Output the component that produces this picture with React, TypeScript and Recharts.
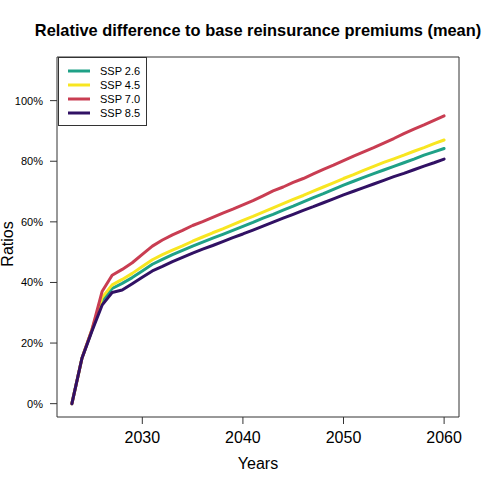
import { LineChart, Line, XAxis, YAxis, ReferenceArea } from 'recharts'

const years = [
    2023, 2024, 2025, 2026, 2027, 2028, 2029, 2030, 2031, 2032,
    2033, 2034, 2035, 2036, 2037, 2038, 2039, 2040, 2041, 2042,
    2043, 2044, 2045, 2046, 2047, 2048, 2049, 2050, 2051, 2052,
    2053, 2054, 2055, 2056, 2057, 2058, 2059, 2060,
]

// mean relative difference, in percent
const ssp26 = [
    0, 15, 24.3, 34, 38, 39.7, 41.6, 43.8, 46, 47.6,
    49.2, 50.6, 52, 53.3, 54.6, 55.9, 57.2, 58.5, 59.8, 61.2,
    62.5, 63.9, 65.2, 66.6, 68, 69.3, 70.7, 72.1, 73.4, 74.7,
    75.9, 77.1, 78.3, 79.5, 80.7, 82, 83.1, 84.2,
]
const ssp45 = [
    0, 15, 24.5, 35, 39.2, 41, 43, 45.3, 47.5, 49.2,
    50.7, 52.1, 53.6, 55, 56.4, 57.7, 59.1, 60.5, 61.8, 63.2,
    64.6, 66, 67.4, 68.7, 70.1, 71.5, 72.9, 74.3, 75.6, 77,
    78.3, 79.6, 80.8, 82, 83.3, 84.5, 85.8, 87,
]
const ssp70 = [
    0, 15, 24.5, 37, 42.4, 44.3, 46.5, 49.3, 52, 54,
    55.7, 57.2, 58.8, 60.1, 61.5, 62.9, 64.2, 65.6, 67, 68.6,
    70.2, 71.5, 73, 74.3, 75.8, 77.3, 78.7, 80.2, 81.7, 83.1,
    84.5, 86, 87.5, 89.1, 90.6, 92, 93.5, 95,
]
const ssp85 = [
    0, 15, 24, 32.5, 36.7, 37.5, 39.6, 41.7, 43.8, 45.3,
    46.9, 48.3, 49.7, 51, 52.2, 53.5, 54.8, 56, 57.3, 58.6,
    59.9, 61.2, 62.5, 63.8, 65, 66.3, 67.6, 68.9, 70.1, 71.3,
    72.5, 73.7, 74.9, 76, 77.2, 78.4, 79.5, 80.7,
]

const xTicks = [2030, 2040, 2050, 2060]
const yTicks = [0, 20, 40, 60, 80, 100]

const series = [
    { key: 'ssp26', name: 'SSP 2.6', color: '#1FA187' },
    { key: 'ssp45', name: 'SSP 4.5', color: '#F8E621' },
    { key: 'ssp70', name: 'SSP 7.0', color: '#C93D52' },
    { key: 'ssp85', name: 'SSP 8.5', color: '#311164' },
]

const FONT = '"Liberation Sans", Arial, Helvetica, sans-serif'
const X_DOMAIN = [2021.52, 2061.48]
const Y_DOMAIN = [-4.4, 114.4]

const data = years.map((year, i) => ({
    year,
    ssp26: ssp26[i],
    ssp45: ssp45[i],
    ssp70: ssp70[i],
    ssp85: ssp85[i],
}))

const LegendBox = () => (
    <div style={{
        position: 'absolute',
        left: 58,
        top: 57,
        width: 89,
        height: 69,
        border: '1px solid #333',
        boxSizing: 'border-box',
        background: '#fff',
        paddingTop: 6,
        fontFamily: FONT,
        fontSize: 11,
        color: '#000',
    }}>
        {series.map(s => (
            <div key={s.key} style={{ display: 'flex', alignItems: 'center', height: 14 }}>
                <svg width={41} height={14}>
                    <line x1={9} x2={31} y1={7} y2={7} stroke={s.color} strokeWidth={3} />
                </svg>
                <span>{s.name}</span>
            </div>
        ))}
    </div>
)

export default function App() {
    return (
        <div style={{ position: 'absolute', left: 0, top: 0, width: 488, height: 488, background: '#fff', fontFamily: FONT }}>
            <LineChart
                width={488}
                height={488}
                data={data}
                margin={{ top: 57, right: 29, left: 7, bottom: 31 }}
            >
                <XAxis
                    dataKey="year"
                    type="number"
                    domain={X_DOMAIN}
                    ticks={xTicks}
                    height={40}
                    axisLine={false}
                    tickSize={7}
                    tickMargin={8}
                    tickLine={{ stroke: '#333' }}
                    tick={{ fill: '#000', fontSize: 16, fontFamily: FONT }}
                    allowDataOverflow
                />
                <YAxis
                    type="number"
                    domain={Y_DOMAIN}
                    ticks={yTicks}
                    width={50}
                    axisLine={false}
                    tickSize={7}
                    tickMargin={7}
                    tickLine={{ stroke: '#333' }}
                    tick={{ fill: '#000', fontSize: 11, fontFamily: FONT }}
                    tickFormatter={(v: number) => `${v}%`}
                    allowDataOverflow
                />
                <ReferenceArea
                    x1={X_DOMAIN[0]}
                    x2={X_DOMAIN[1]}
                    y1={Y_DOMAIN[0]}
                    y2={Y_DOMAIN[1]}
                    fill="none"
                    stroke="#333"
                    strokeWidth={1}
                    ifOverflow="visible"
                />
                {series.map(s => (
                    <Line
                        key={s.key}
                        dataKey={s.key}
                        name={s.name}
                        type="linear"
                        stroke={s.color}
                        strokeWidth={3}
                        strokeLinecap="round"
                        strokeLinejoin="round"
                        dot={false}
                        activeDot={false}
                        isAnimationActive={false}
                    />
                ))}
            </LineChart>
            <LegendBox />
            <svg width={488} height={488} style={{ position: 'absolute', left: 0, top: 0, pointerEvents: 'none' }}>
                <text x={258} y={36} textAnchor="middle" fontFamily={FONT} fontSize={16.4} fontWeight="bold" fill="#000">
                    Relative difference to base reinsurance premiums (mean)
                </text>
                <text x={258} y={469} textAnchor="middle" fontFamily={FONT} fontSize={16} fill="#000">
                    Years
                </text>
                <text x={13} y={244} textAnchor="middle" fontFamily={FONT} fontSize={16} fill="#000" transform="rotate(-90 13 244)">
                    Ratios
                </text>
            </svg>
        </div>
    )
}
